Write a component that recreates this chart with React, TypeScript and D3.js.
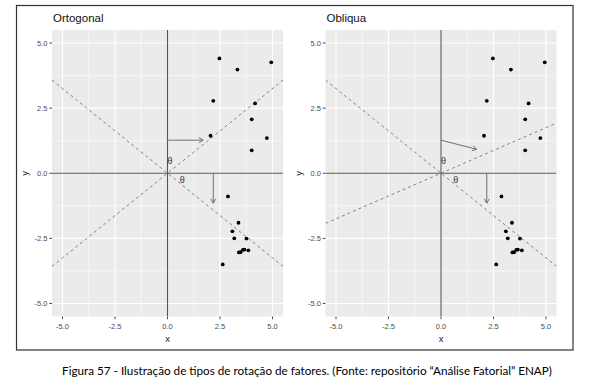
import React from "react";
import * as d3 from "d3";

// ---- data ----
const pointsX = [2.47, 3.33, 4.94, 2.18, 4.17, 4.01, 2.05, 4.73, 4.01,
  2.88, 3.38, 3.09, 3.18, 3.76, 3.40, 3.48, 3.59, 3.66, 3.85, 2.63];
const pointsY = [4.41, 3.98, 4.26, 2.78, 2.68, 2.07, 1.44, 1.35, 0.88,
  -0.89, -1.90, -2.23, -2.50, -2.51, -3.04, -3.03, -2.94, -2.93, -2.96, -3.50];

const tickValues = [-5, -2.5, 0, 2.5, 5];
const tickLabels = ["-5.0", "-2.5", "0.0", "2.5", "5.0"];
const minorValues = [-3.75, -1.25, 1.25, 3.75];

const panelTitles = ["Ortogonal", "Obliqua"];
const axisSlopes = [[0.65, -0.65], [0.35, -0.65]];
// arrows: [x1, y1, x2, y2]
const arrowsOrtho = [[0, 1.27, 1.7, 1.27], [2.18, 0, 2.18, -1.15]];
const arrowsOblique = [[0, 1.27, 1.7, 0.92], [2.18, 0, 2.18, -1.15]];
const thetaX = [0.12, 0.7];
const thetaY = [0.47, -0.25];

const caption = "Figura 57 - Ilustração de tipos de rotação de fatores. (Fonte: repositório “Análise Fatorial” ENAP)";

const W = 592, H = 384;
const domain: [number, number] = [-5.5, 5.5];
const panelLefts = [52, 325.5];
const panelWidth = 231;
const panelTop = 30, panelBottom = 316.5;

function Panel({ idx }: { idx: number }) {
  const x = d3.scaleLinear().domain(domain).range([panelLefts[idx], panelLefts[idx] + panelWidth]);
  const y = d3.scaleLinear().domain(domain).range([panelBottom, panelTop]);
  const arrows = idx === 0 ? arrowsOrtho : arrowsOblique;
  const clipId = `clip${idx}`;
  const font = "'Liberation Sans', Arial, sans-serif";
  const arrowHead = (a: number[]) => {
    const [x1, y1, x2, y2] = [x(a[0]), y(a[1]), x(a[2]), y(a[3])];
    const ang = Math.atan2(y2 - y1, x2 - x1);
    const L = 5, spread = Math.PI / 6;
    const p1 = [x2 - L * Math.cos(ang - spread), y2 - L * Math.sin(ang - spread)];
    const p2 = [x2 - L * Math.cos(ang + spread), y2 - L * Math.sin(ang + spread)];
    return `M${p1[0]},${p1[1]}L${x2},${y2}L${p2[0]},${p2[1]}`;
  };
  const line = d3.line<[number, number]>().x(d => x(d[0])).y(d => y(d[1]));
  return (
    <g>
      <defs>
        <clipPath id={clipId}>
          <rect x={x(domain[0])} y={panelTop} width={panelWidth} height={panelBottom - panelTop} />
        </clipPath>
      </defs>
      <rect x={x(domain[0])} y={panelTop} width={panelWidth} height={panelBottom - panelTop} fill="#EBEBEB" />
      {minorValues.map(v => (
        <g key={"m" + v}>
          <line x1={x(v)} x2={x(v)} y1={panelTop} y2={panelBottom} stroke="#fff" strokeWidth={0.55} />
          <line y1={y(v)} y2={y(v)} x1={x(domain[0])} x2={x(domain[1])} stroke="#fff" strokeWidth={0.55} />
        </g>
      ))}
      {tickValues.map(v => (
        <g key={"M" + v}>
          <line x1={x(v)} x2={x(v)} y1={panelTop} y2={panelBottom} stroke="#fff" strokeWidth={1.1} />
          <line y1={y(v)} y2={y(v)} x1={x(domain[0])} x2={x(domain[1])} stroke="#fff" strokeWidth={1.1} />
        </g>
      ))}
      <g clipPath={`url(#${clipId})`}>
        <line x1={x(0)} x2={x(0)} y1={panelTop} y2={panelBottom} stroke="#555" strokeWidth={1.1} />
        <line y1={y(0)} y2={y(0)} x1={x(domain[0])} x2={x(domain[1])} stroke="#555" strokeWidth={1.1} />
        {axisSlopes[idx].map((s, i) => (
          <path key={i} d={line([[domain[0], s * domain[0]], [domain[1], s * domain[1]]]) || ""}
            stroke="#777" strokeWidth={0.9} strokeDasharray="3,3" fill="none" />
        ))}
        {arrows.map((a, i) => (
          <g key={i} stroke="#6e6e6e" strokeWidth={1} fill="none">
            <line x1={x(a[0])} y1={y(a[1])} x2={x(a[2])} y2={y(a[3])} />
            <path d={arrowHead(a)} />
          </g>
        ))}
        {thetaX.map((tx, i) => (
          <text key={i} x={x(tx)} y={y(thetaY[i])} fontSize={9} fill="#333" textAnchor="middle"
            dominantBaseline="central" fontFamily={font}>θ</text>
        ))}
        {pointsX.map((px, i) => (
          <circle key={i} cx={x(px)} cy={y(pointsY[i])} r={1.9} fill="#000" />
        ))}
      </g>
      {/* ticks */}
      {tickValues.map((v, i) => (
        <g key={"t" + v}>
          <line x1={x(v)} x2={x(v)} y1={panelBottom} y2={panelBottom + 2.7} stroke="#333" strokeWidth={0.9} />
          <text x={x(v)} y={panelBottom + 10} fontSize={7.5} fill="#4D4D4D" textAnchor="middle"
            dominantBaseline="central" fontFamily={font}>{tickLabels[i]}</text>
          <line x1={x(domain[0]) - 2.7} x2={x(domain[0])} y1={y(v)} y2={y(v)} stroke="#333" strokeWidth={0.9} />
          <text x={x(domain[0]) - 4.5} y={y(v)} fontSize={7.5} fill="#4D4D4D" textAnchor="end"
            dominantBaseline="central" fontFamily={font}>{tickLabels[i]}</text>
        </g>
      ))}
      <text x={x(0)} y={panelBottom + 21.5} fontSize={9.5} fill="#222" textAnchor="middle"
        dominantBaseline="central" fontFamily={font}>x</text>
      <text transform={`translate(${x(domain[0]) - 27.5},${y(0)}) rotate(-90)`} fontSize={9.5} fill="#222"
        textAnchor="middle" dominantBaseline="central" fontFamily={font}>y</text>
      <text x={x(domain[0]) + 1} y={22} fontSize={11.5} fill="#111" fontFamily={font}>{panelTitles[idx]}</text>
    </g>
  );
}

export default function App() {
  return (
    <svg width={W} height={H} style={{ position: "absolute", left: 0, top: 0, background: "#fff" }}>
      <rect x={0} y={0} width={W} height={H} fill="#fff" />
      <rect x={16.5} y={5.5} width={556.5} height={344.5} fill="#fff" stroke="#333" strokeWidth={1.2} />
      <Panel idx={0} />
      <Panel idx={1} />
      <text x={307} y={375} fontSize={11.7} fill="#000" textAnchor="middle"
        fontFamily="Lato, 'Open Sans', sans-serif">{caption}</text>
    </svg>
  );
}
